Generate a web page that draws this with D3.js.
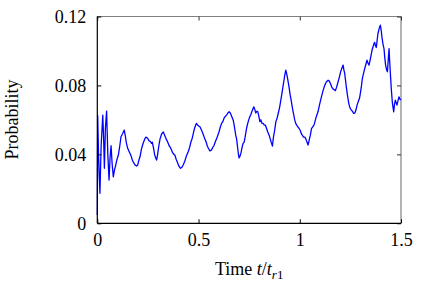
<!DOCTYPE html>
<html>
<head>
<meta charset="utf-8">
<script src="https://cdn.jsdelivr.net/npm/d3@7"></script>
<style>
  html, body { margin: 0; padding: 0; background: #fff; }
  svg { display: block; }
  text { font-family: "Liberation Serif", "Times New Roman", serif; }
</style>
</head>
<body>
<svg id="chart" width="425" height="292"></svg>
<script>
const timeValues = [
0.000,0.002,0.006,0.013,0.019,0.027,0.031,0.035,0.040,0.046,0.052,0.058,0.063,0.068,0.073,0.079,0.085,0.091,0.097,0.104,
0.110,0.117,0.125,0.133,0.138,0.143,0.150,0.156,0.161,0.167,0.173,0.180,0.187,0.194,0.200,0.206,0.211,0.218,0.225,0.235,
0.240,0.248,0.255,0.262,0.268,0.272,0.277,0.283,0.288,0.293,0.298,0.304,0.310,0.318,0.326,0.333,0.340,0.348,0.355,0.359,
0.365,0.372,0.378,0.383,0.390,0.397,0.404,0.411,0.418,0.425,0.432,0.440,0.449,0.456,0.462,0.468,0.474,0.480,0.486,0.490,
0.495,0.501,0.507,0.511,0.515,0.522,0.531,0.538,0.543,0.548,0.556,0.564,0.570,0.576,0.582,0.589,0.595,0.601,0.608,0.614,
0.620,0.626,0.632,0.638,0.645,0.651,0.657,0.664,0.671,0.676,0.680,0.684,0.688,0.692,0.696,0.700,0.705,0.710,0.715,0.720,
0.725,0.730,0.737,0.743,0.748,0.753,0.758,0.764,0.770,0.773,0.778,0.783,0.788,0.793,0.798,0.803,0.808,0.813,0.819,0.825,
0.830,0.836,0.842,0.849,0.854,0.859,0.865,0.870,0.876,0.882,0.888,0.894,0.900,0.905,0.910,0.914,0.918,0.922,0.926,0.931,
0.935,0.940,0.947,0.952,0.958,0.964,0.970,0.975,0.980,0.985,0.991,0.997,1.002,1.008,1.013,1.019,1.025,1.030,1.036,1.041,
1.046,1.052,1.058,1.064,1.070,1.075,1.082,1.090,1.098,1.107,1.115,1.123,1.131,1.140,1.146,1.152,1.158,1.164,1.170,1.176,
1.182,1.189,1.196,1.202,1.208,1.214,1.218,1.222,1.226,1.230,1.236,1.242,1.248,1.255,1.260,1.266,1.272,1.278,1.284,1.290,
1.295,1.300,1.305,1.309,1.315,1.321,1.326,1.332,1.337,1.342,1.348,1.354,1.358,1.362,1.366,1.370,1.374,1.378,1.382,1.386,
1.392,1.398,1.402,1.406,1.411,1.416,1.420,1.424,1.429,1.433,1.437,1.441,1.444,1.448,1.452,1.457,1.461,1.464,1.468,1.472,
1.476,1.480,1.485,1.490,1.495,1.500
];
const probValues = [
0.0048,0.0624,0.040,0.0174,0.045,0.0628,0.050,0.0319,0.055,0.0651,0.040,0.0251,0.038,0.045,0.035,0.027,0.031,0.0338,0.037,0.0396,
0.044,0.0502,0.052,0.0541,0.051,0.047,0.0435,0.042,0.0406,0.039,0.0367,0.035,0.0338,0.0332,0.034,0.037,0.0386,0.043,0.046,0.049,
0.0500,0.0495,0.048,0.0475,0.0464,0.0470,0.044,0.040,0.038,0.0367,0.040,0.045,0.049,0.052,0.0530,0.051,0.049,0.047,0.045,0.0444,
0.043,0.041,0.040,0.0396,0.037,0.035,0.033,0.0319,0.0325,0.034,0.036,0.039,0.0415,0.044,0.047,0.049,0.052,0.055,0.057,0.058,
0.057,0.0565,0.056,0.055,0.054,0.052,0.049,0.047,0.045,0.0437,0.042,0.0425,0.044,0.045,0.047,0.049,0.051,0.053,0.056,0.058,
0.059,0.061,0.062,0.0628,0.064,0.0647,0.064,0.062,0.060,0.057,0.054,0.051,0.049,0.045,0.041,0.038,0.039,0.041,0.044,0.0464,
0.047,0.050,0.055,0.058,0.060,0.0618,0.063,0.065,0.0667,0.0676,0.066,0.064,0.065,0.0647,0.062,0.059,0.060,0.058,0.058,0.057,
0.057,0.055,0.053,0.051,0.049,0.047,0.0448,0.050,0.054,0.059,0.061,0.064,0.067,0.0705,0.074,0.077,0.080,0.083,0.086,0.0889,
0.087,0.084,0.079,0.075,0.071,0.0667,0.063,0.060,0.058,0.057,0.056,0.055,0.054,0.052,0.051,0.050,0.050,0.049,0.047,0.0454,
0.048,0.051,0.055,0.056,0.057,0.059,0.062,0.0647,0.069,0.0734,0.077,0.080,0.082,0.083,0.0825,0.081,0.079,0.078,0.0775,0.077,
0.079,0.082,0.085,0.088,0.090,0.0918,0.089,0.087,0.083,0.079,0.074,0.0696,0.067,0.0657,0.065,0.0638,0.064,0.066,0.069,0.071,
0.0725,0.076,0.080,0.084,0.087,0.0899,0.092,0.0947,0.093,0.0918,0.095,0.0986,0.101,0.1024,0.104,0.105,0.103,0.102,0.106,0.110,
0.113,0.115,0.112,0.108,0.104,0.1014,0.096,0.0918,0.089,0.0879,0.095,0.1014,0.094,0.086,0.078,0.0705,0.067,0.0647,0.069,0.0715,
0.070,0.0686,0.071,0.0734,0.072,0.0715
];
const xTickValues = [0, 0.5, 1, 1.5];
const xTickLabels = ["0", "0.5", "1", "1.5"];
const yTickValues = [0, 0.04, 0.08, 0.12];
const yTickLabels = ["0", "0.04", "0.08", "0.12"];

(function () {
const svg = d3.select("#chart");
const pLeft = 97.3, pRight = 401, pTop = 16.5, pBottom = 223.3;
const x = d3.scaleLinear().domain([0, 1.5]).range([pLeft, pRight]);
const y = d3.scaleLinear().domain([0, 0.12]).range([pBottom, pTop]);
const fontSize = 18;

// frame: top & right grey
svg.append("line").attr("x1", pLeft).attr("x2", pRight).attr("y1", pTop).attr("y2", pTop)
  .attr("stroke", "#808080").attr("stroke-width", 1.2);
svg.append("line").attr("x1", pRight).attr("x2", pRight).attr("y1", pTop).attr("y2", pBottom)
  .attr("stroke", "#808080").attr("stroke-width", 1.2);

// mirrored inward ticks on top and right
const xTop = svg.append("g").attr("transform", `translate(0,${pTop})`)
  .call(d3.axisTop(x).tickValues(xTickValues).tickSize(-4).tickFormat(""));
xTop.select(".domain").remove();
xTop.selectAll("line").attr("stroke", "#333");
const yRight = svg.append("g").attr("transform", `translate(${pRight},0)`)
  .call(d3.axisRight(y).tickValues(yTickValues).tickSize(-4).tickFormat(""));
yRight.select(".domain").remove();
yRight.selectAll("line").attr("stroke", "#333");

// data line
const data = timeValues.map((t, i) => [t, probValues[i]]);
svg.append("path").datum(data)
  .attr("fill", "none").attr("stroke", "#0000ff").attr("stroke-width", 1.3)
  .attr("stroke-linejoin", "round")
  .attr("d", d3.line().x(d => x(d[0])).y(d => y(d[1])));

// bottom axis
const xAxis = svg.append("g").attr("transform", `translate(0,${pBottom})`)
  .call(d3.axisBottom(x).tickValues(xTickValues).tickSize(-4).tickPadding(10)
    .tickFormat((d, i) => xTickLabels[i]));
xAxis.select(".domain").attr("stroke", "#000").attr("stroke-width", 1.2).attr("d", `M${pLeft},0H${pRight}`);
xAxis.selectAll("line").attr("stroke", "#000");
xAxis.selectAll("text").attr("font-size", fontSize).attr("fill", "#000")
  .attr("font-family", "Liberation Serif").attr("dy", "0.72em");

// left axis
const yAxis = svg.append("g").attr("transform", `translate(${pLeft},0)`)
  .call(d3.axisLeft(y).tickValues(yTickValues).tickSize(-4).tickPadding(11)
    .tickFormat((d, i) => yTickLabels[i]));
yAxis.select(".domain").attr("stroke", "#000").attr("stroke-width", 1.2).attr("d", `M0,${pBottom}V${pTop}`);
yAxis.selectAll("line").attr("stroke", "#000");
yAxis.selectAll("text").attr("font-size", fontSize).attr("fill", "#000")
  .attr("font-family", "Liberation Serif").attr("dy", "0.34em");

// axis titles
const xt = svg.append("text").attr("x", (pLeft + pRight) / 2).attr("y", 275)
  .attr("text-anchor", "middle").attr("font-size", fontSize).attr("fill", "#000");
xt.append("tspan").text("Time ");
xt.append("tspan").attr("font-style", "italic").text("t");
xt.append("tspan").text("/");
xt.append("tspan").attr("font-style", "italic").text("t");
xt.append("tspan").attr("font-style", "italic").attr("font-size", 13).attr("dy", 4).text("r");
xt.append("tspan").attr("font-size", 13).text("1");

svg.append("text").attr("transform", "translate(18,119.5) rotate(-90)")
  .attr("text-anchor", "middle").attr("font-size", fontSize).attr("fill", "#000")
  .text("Probability");
})();
</script>
</body>
</html>
